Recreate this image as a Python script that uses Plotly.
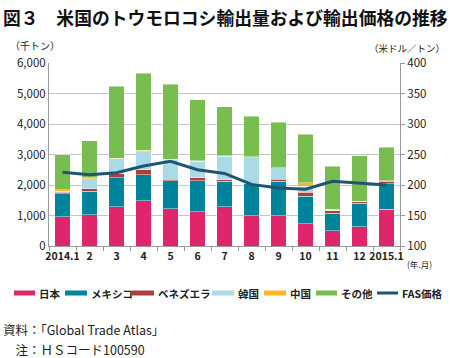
import plotly.graph_objects as go

categories = ["2014.1", "2", "3", "4", "5", "6", "7", "8", "9", "10", "11", "12", "2015.1"]
japan     = [960, 1020, 1290, 1490, 1225, 1130, 1290, 990, 995, 735, 505, 625, 1205]
mexico    = [760, 775, 950, 840, 910, 1005, 830, 1045, 1125, 895, 565, 785, 830]
venezuela = [50, 85, 135, 175, 55, 95, 45, 20, 70, 140, 110, 45, 95]
korea     = [20, 330, 490, 580, 640, 550, 785, 845, 370, 190, 0, 0, 15]
china     = [60, 20, 15, 55, 10, 10, 10, 20, 10, 120, 20, 15, 0]
others    = [1150, 1215, 2355, 2520, 2470, 2010, 1600, 1330, 1485, 1590, 1420, 1495, 1100]
fas_price = [221, 217, 220, 231, 239, 225, 219, 201, 195, 193, 206, 203, 200]

series = [
    ("日本", japan, "#E0266B"),
    ("メキシコ", mexico, "#00849B"),
    ("ベネズエラ", venezuela, "#A9423B"),
    ("韓国", korea, "#A9DAE6"),
    ("中国", china, "#F8B81E"),
    ("その他", others, "#78BE4F"),
]
line_color = "#1F5572"

FONT = "Noto Sans CJK JP"
L, R, T, B = 49, 50, 63, 112
W, H = 450, 358
PW, PH = W - L - R, H - T - B


def px(x):
    return (x - L) / PW


def py(y):
    return (H - B - y) / PH


fig = go.Figure()
for name, vals, col in series:
    fig.add_trace(go.Bar(
        x=categories, y=vals, name=name, marker_color=col,
        marker_line=dict(color="rgba(255,255,255,0.7)", width=0.6),
        showlegend=False,
    ))
fig.add_trace(go.Scatter(
    x=categories, y=fas_price, name="FAS価格", yaxis="y2", mode="lines",
    line=dict(color=line_color, width=3), showlegend=False,
))

fig.update_layout(
    width=W, height=H, margin=dict(l=L, r=R, t=T, b=B, autoexpand=False),
    barmode="stack", bargap=0.44,
    plot_bgcolor="white", paper_bgcolor="white",
    font=dict(family=FONT, color="#222"),
    xaxis=dict(
        type="category", showline=True, linecolor="#9a9a9a", linewidth=1,
        ticks="outside", tickson="boundaries", ticklen=4, tickcolor="#9a9a9a",
        tickangle=0, automargin=False,
        tickfont=dict(size=10.5, color="#222", family=FONT, weight="bold"),
        showgrid=False,
    ),
    yaxis=dict(
        range=[0, 6000], dtick=1000, tickformat=",", showline=True,
        linecolor="#9a9a9a", linewidth=1, gridcolor="#c4c4c4", gridwidth=1.3,
        ticks="", tickfont=dict(size=11.5, color="#222"), zeroline=False,
        automargin=False,
    ),
    yaxis2=dict(
        range=[100, 400], dtick=50, overlaying="y", side="right",
        showline=True, linecolor="#9a9a9a", linewidth=1, showgrid=False,
        ticks="outside", ticklen=4, tickcolor="#9a9a9a",
        tickfont=dict(size=11.5, color="#222"), zeroline=False,
        automargin=False,
    ),
)

ann = []
ann.append(dict(text="<b>図３　米国のトウモロコシ輸出量および輸出価格の推移</b>",
                x=px(1), y=py(17), xref="paper", yref="paper", xanchor="left",
                yanchor="middle", showarrow=False, font=dict(size=17.8, color="#111")))
ann.append(dict(text="（千トン）", x=px(8), y=py(46), xref="paper", yref="paper",
                xanchor="left", yanchor="middle", showarrow=False,
                font=dict(size=10, color="#222")))
ann.append(dict(text="（米ドル／トン）", x=px(447), y=py(48), xref="paper", yref="paper",
                xanchor="right", yanchor="middle", showarrow=False,
                font=dict(size=9.5, color="#222")))
ann.append(dict(text="(年.月)", x=px(405), y=py(264), xref="paper", yref="paper",
                xanchor="left", yanchor="middle", showarrow=False,
                font=dict(size=8.5, color="#222")))

shapes = []
legend_items = [
    ("日本", "#E0266B", 14, 35, "bar"),
    ("メキシコ", "#00849B", 65, 87, "bar"),
    ("ベネズエラ", "#A9423B", 132, 154, "bar"),
    ("韓国", "#A9DAE6", 212, 234, "bar"),
    ("中国", "#F8B81E", 264, 286, "bar"),
    ("その他", "#78BE4F", 316, 337, "bar"),
    ("FAS価格", line_color, 377, 398, "line"),
]
ly = 293
for name, col, x0, x1, kind in legend_items:
    if kind == "bar":
        shapes.append(dict(type="rect", xref="paper", yref="paper",
                           x0=px(x0), x1=px(x1), y0=py(ly + 2.5), y1=py(ly - 2.5),
                           fillcolor=col, line=dict(width=0)))
    else:
        shapes.append(dict(type="line", xref="paper", yref="paper",
                           x0=px(x0), x1=px(x1), y0=py(ly), y1=py(ly),
                           line=dict(color=col, width=3)))
    ann.append(dict(text="<b>" + name + "</b>", x=px(x1 + 1.5), y=py(ly), xref="paper",
                    yref="paper", xanchor="left", yanchor="middle", showarrow=False,
                    font=dict(size=10.5, color="#222")))

ann.append(dict(text="資料：「Global Trade Atlas」", x=px(1), y=py(329), xref="paper",
                yref="paper", xanchor="left", yanchor="middle", showarrow=False,
                font=dict(size=12.5, color="#222")))
ann.append(dict(text="　注：ＨＳコード100590", x=px(1), y=py(349), xref="paper",
                yref="paper", xanchor="left", yanchor="middle", showarrow=False,
                font=dict(size=12.5, color="#222")))

fig.update_layout(annotations=ann, shapes=shapes)
fig.write_html("out.html", config={"displayModeBar": False},
               post_script="document.body.style.margin='0';document.body.style.overflow='hidden';")
